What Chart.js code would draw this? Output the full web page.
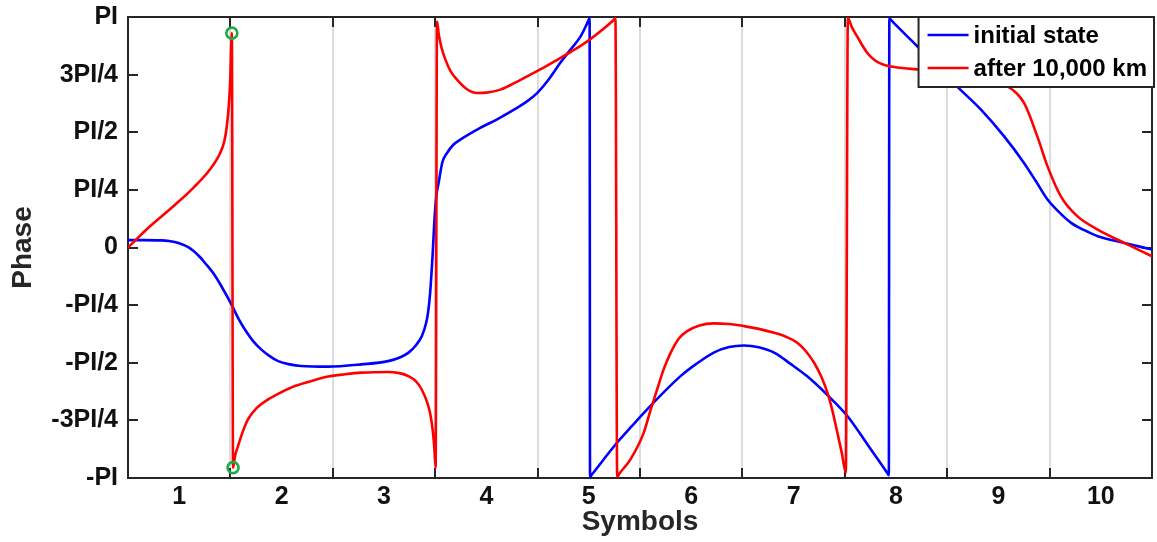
<!DOCTYPE html>
<html>
<head>
<meta charset="utf-8">
<style>
  html, body { margin: 0; padding: 0; background: #ffffff; }
  #wrap { width: 1157px; height: 542px; }
</style>
<script src="https://cdn.jsdelivr.net/npm/chart.js@4.4.1/dist/chart.umd.min.js"></script>
</head>
<body>
<div id="wrap"><canvas id="phaseChart" width="1157" height="542"></canvas></div>
<script>
// Symbol indices on the x axis and the boundaries between neighbouring symbols
const symbolLabels = [1, 2, 3, 4, 5, 6, 7, 8, 9, 10];
const symbolBoundaries = [1.5, 2.5, 3.5, 4.5, 5.5, 6.5, 7.5, 8.5, 9.5];

// Phase axis, values expressed in units of PI
const phaseTicks = [-1, -0.75, -0.5, -0.25, 0, 0.25, 0.5, 0.75, 1];
const phaseTickLabels = ['-PI', '-3PI/4', '-PI/2', '-PI/4', '0', 'PI/4', 'PI/2', '3PI/4', 'PI'];

// Phase of the initial state (units of PI)
const initialX = [0.5, 0.65, 0.826, 0.9, 1.0, 1.1, 1.2, 1.25, 1.33, 1.412, 1.51, 1.58, 1.64, 1.72, 1.80,
  1.88, 1.966, 2.08, 2.19, 2.455, 2.78, 3.04, 3.16, 3.24, 3.31, 3.37, 3.41, 3.43, 3.45, 3.475, 3.49,
  3.51, 3.533, 3.57, 3.615, 3.68, 3.745, 3.94, 4.1, 4.27, 4.4, 4.495, 4.61, 4.72, 4.82, 4.92, 4.995, 5.008,
  5.012, 5.03, 5.277, 5.42, 5.57, 5.896, 6.05, 6.22, 6.37, 6.515, 6.66, 6.81, 6.97, 7.13, 7.33, 7.525, 7.73,
  7.915, 7.93, 7.935, 7.955, 8.21, 8.40, 8.60, 8.83, 9.056, 9.25, 9.37, 9.48, 9.6, 9.71, 9.84, 9.97, 10.23, 10.5];
const initialY = [0.032, 0.032, 0.031, 0.028, 0.018, -0.002, -0.04, -0.066, -0.11, -0.168, -0.247, -0.31, -0.355, -0.405, -0.442,
  -0.47, -0.493, -0.507, -0.514, -0.517, -0.507, -0.493, -0.476, -0.456, -0.425, -0.384, -0.33, -0.283, -0.2, -0.03, 0.1,
  0.22, 0.28, 0.37, 0.41, 0.447, 0.468, 0.519, 0.555, 0.598, 0.635, 0.67, 0.73, 0.80, 0.858, 0.916, 0.983, 0.995,
  -0.995, -0.985, -0.846, -0.775, -0.702, -0.558, -0.505, -0.456, -0.432, -0.425, -0.433, -0.456, -0.505, -0.558, -0.64, -0.731, -0.86,
  -0.978, -0.988, 0.995, 0.985, 0.872, 0.785, 0.697, 0.598, 0.482, 0.367, 0.285, 0.208, 0.15, 0.107, 0.075, 0.049, 0.020, -0.009];

// Phase after 10,000 km of transmission (units of PI)
const afterX = [0.5, 0.715, 0.943, 1.138, 1.30, 1.40, 1.44, 1.465, 1.485, 1.497, 1.514,
  1.526, 1.545, 1.575, 1.62, 1.673, 1.76, 1.868, 2.0, 2.13, 2.3, 2.455, 2.62, 2.78, 3.04, 3.15, 3.237,
  3.31, 3.367, 3.42, 3.449, 3.475, 3.49, 3.504,
  3.518, 3.533, 3.56, 3.60, 3.65, 3.713, 3.8, 3.91, 4.0, 4.136, 4.28, 4.43, 4.58, 4.72, 4.86, 4.985, 5.12, 5.245, 5.26,
  5.277, 5.3, 5.407, 5.537, 5.60, 5.668, 5.73, 5.80, 5.88, 5.96, 6.08, 6.22, 6.37, 6.515, 6.66, 6.81, 6.93, 7.036,
  7.12, 7.2, 7.27, 7.33, 7.38, 7.427, 7.47, 7.51,
  7.53, 7.57, 7.62, 7.72, 7.80, 7.88, 8.0, 8.18, 8.5, 8.75, 8.95, 9.09, 9.25, 9.38, 9.48, 9.61, 9.77, 9.97, 10.23, 10.5];
const afterY = [0.0, 0.092, 0.179, 0.259, 0.338, 0.41, 0.46, 0.526, 0.62, 0.713, 0.93,
  -0.955, -0.905, -0.861, -0.8, -0.745, -0.695, -0.659, -0.627, -0.601, -0.578, -0.560, -0.55, -0.543, -0.540, -0.545, -0.558,
  -0.58, -0.615, -0.67, -0.716, -0.79, -0.861, -0.955,
  0.98, 0.93, 0.87, 0.815, 0.765, 0.728, 0.69, 0.67, 0.672, 0.685, 0.715, 0.75, 0.786, 0.822, 0.858, 0.894, 0.94, 0.988, 0.995,
  -0.995, -0.98, -0.919, -0.803, -0.71, -0.615, -0.53, -0.456, -0.395, -0.363, -0.338, -0.329, -0.332, -0.341, -0.353, -0.37, -0.388, -0.413,
  -0.45, -0.50, -0.56, -0.63, -0.71, -0.803, -0.89, -0.976,
  0.995, 0.955, 0.916, 0.844, 0.81, 0.793, 0.782, 0.774, 0.765, 0.745, 0.718, 0.699, 0.627, 0.482, 0.352, 0.222, 0.136, 0.078, 0.02, -0.038];

// Highlighted extremes of the received phase around the first symbol boundary
const markerX = [1.514, 1.526];
const markerY = [0.93, -0.955];

const FONT = '"Liberation Sans", Arial, Helvetica, sans-serif';
const AXIS_COLOR = '#262626';

const toPoints = (xs, ys) => xs.map((x, i) => ({ x: x, y: ys[i] }));

// Box around the plot with inward-pointing tick marks on all four sides
const axesBox = {
  id: 'axesBox',
  beforeDatasetsDraw(chart) {
    const { ctx, chartArea: a, scales } = chart;
    const xs = scales.x, ys = scales.y;
    const len = 10;
    ctx.save();
    ctx.strokeStyle = AXIS_COLOR;
    ctx.lineWidth = 2;
    ctx.beginPath();
    symbolBoundaries.forEach(v => {
      const px = Math.round(xs.getPixelForValue(v));
      ctx.moveTo(px, a.bottom); ctx.lineTo(px, a.bottom - len);
      ctx.moveTo(px, a.top); ctx.lineTo(px, a.top + len);
    });
    phaseTicks.forEach(v => {
      const py = Math.round(ys.getPixelForValue(v));
      ctx.moveTo(a.left, py); ctx.lineTo(a.left + len, py);
      ctx.moveTo(a.right, py); ctx.lineTo(a.right - len, py);
    });
    ctx.stroke();
    ctx.strokeRect(a.left, a.top, a.right - a.left, a.bottom - a.top);
    ctx.restore();
  }
};

// Boxed legend in the upper right corner of the plot
const cornerLegend = {
  id: 'cornerLegend',
  afterDatasetsDraw(chart) {
    const { ctx, chartArea: a } = chart;
    const items = chart.data.datasets.filter(d => d.inLegend);
    ctx.save();
    ctx.font = 'bold 24px ' + FONT;
    const textW = Math.max(...items.map(d => ctx.measureText(d.label).width));
    const sampleX0 = 9, sampleLen = 41, gap = 5, rowH = 33;
    const w = sampleX0 + sampleLen + gap + textW + 7;
    const h = 70;
    const left = a.right + 2 - w;
    const top = a.top;
    ctx.fillStyle = '#ffffff';
    ctx.fillRect(left, top, w, h);
    ctx.strokeStyle = AXIS_COLOR;
    ctx.lineWidth = 2;
    ctx.strokeRect(left, top, w, h);
    items.forEach((d, i) => {
      const cy = top + 18 + i * rowH;
      ctx.strokeStyle = d.borderColor;
      ctx.lineWidth = d.borderWidth;
      ctx.beginPath();
      ctx.moveTo(left + sampleX0, cy);
      ctx.lineTo(left + sampleX0 + sampleLen, cy);
      ctx.stroke();
      ctx.fillStyle = '#000000';
      ctx.textBaseline = 'middle';
      ctx.textAlign = 'left';
      ctx.fillText(d.label, left + sampleX0 + sampleLen + gap, cy + 1);
    });
    ctx.restore();
  }
};

new Chart(document.getElementById('phaseChart'), {
  type: 'line',
  data: {
    datasets: [
      {
        label: 'initial state',
        data: toPoints(initialX, initialY),
        borderColor: '#0000ff',
        borderWidth: 2.6,
        pointRadius: 0,
        cubicInterpolationMode: 'monotone',
        order: 3,
        inLegend: true
      },
      {
        label: 'after 10,000 km',
        data: toPoints(afterX, afterY),
        borderColor: '#ff0000',
        borderWidth: 2.6,
        pointRadius: 0,
        cubicInterpolationMode: 'monotone',
        order: 2,
        inLegend: true
      },
      {
        label: 'extremes',
        data: toPoints(markerX, markerY),
        showLine: false,
        pointRadius: 5.5,
        pointBorderWidth: 2.6,
        pointBorderColor: '#1faa4a',
        pointBackgroundColor: 'rgba(0,0,0,0)',
        order: 1,
        inLegend: false
      }
    ]
  },
  options: {
    responsive: false,
    devicePixelRatio: 1,
    animation: false,
    events: [],
    layout: { autoPadding: false, padding: { top: 17, right: 5, bottom: 0, left: 0 } },
    plugins: { legend: { display: false }, tooltip: { enabled: false } },
    scales: {
      x: {
        type: 'linear',
        min: 0.5,
        max: 10.5,
        afterBuildTicks(scale) {
          const vals = symbolLabels.concat(symbolBoundaries).sort((p, q) => p - q);
          scale.ticks = vals.map(v => ({ value: v }));
        },
        afterFit(scale) {
          scale.height = 64;
          scale.paddingLeft = 0;
          scale.paddingRight = 0;
        },
        ticks: {
          autoSkip: false,
          maxRotation: 0,
          padding: 4,
          color: '#111111',
          font: { family: FONT, size: 25, weight: 'bold' },
          callback: v => (symbolLabels.includes(v) ? String(v) : '')
        },
        grid: {
          drawTicks: false,
          lineWidth: 2,
          color: c => (c.tick && symbolBoundaries.includes(c.tick.value) ? '#dcdcdc' : 'rgba(0,0,0,0)')
        },
        border: { display: false },
        title: {
          display: true,
          text: 'Symbols',
          color: AXIS_COLOR,
          font: { family: FONT, size: 28, weight: 'bold' },
          padding: { top: 0, bottom: 3 }
        }
      },
      y: {
        type: 'linear',
        min: -1,
        max: 1,
        afterBuildTicks(scale) { scale.ticks = phaseTicks.map(v => ({ value: v })); },
        afterFit(scale) {
          scale.width = 128;
          scale.paddingTop = 0;
          scale.paddingBottom = 0;
        },
        ticks: {
          autoSkip: false,
          padding: 10,
          color: '#111111',
          font: { family: FONT, size: 25, weight: 'bold' },
          callback: v => phaseTickLabels[phaseTicks.indexOf(v)]
        },
        grid: { display: false, drawTicks: false },
        border: { display: false },
        title: {
          display: true,
          text: 'Phase',
          color: AXIS_COLOR,
          font: { family: FONT, size: 28, weight: 'bold' },
          padding: { top: 6, bottom: 0 }
        }
      }
    }
  },
  plugins: [axesBox, cornerLegend]
});
</script>
</body>
</html>
